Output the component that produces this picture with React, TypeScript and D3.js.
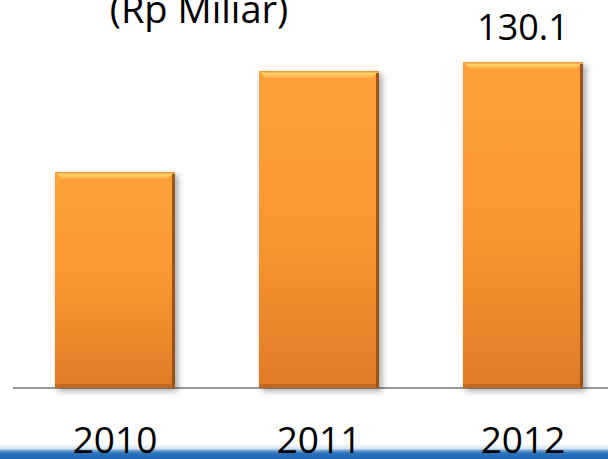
import React from "react";
import * as d3 from "d3";

const years = ["2010", "2011", "2012"];
const values = [86.2, 126.5, 130.1];
const labeledIndex = 2;
const title = "(Rp Miliar)";

const W = 608;
const H = 459;

export default function App() {
  const x = d3
    .scaleBand<string>()
    .domain(years)
    .range([13, 625])
    .paddingInner(84 / 204)
    .paddingOuter(42 / 204);
  const y = d3.scaleLinear().domain([0, 130.1]).range([388, 62]);
  const bw = x.bandwidth();
  const font = "'Open Sans', sans-serif";

  return (
    <svg
      width={W}
      height={H}
      style={{ position: "absolute", left: 0, top: 0, background: "#fff" }}
    >
      <defs>
        <linearGradient id="barg" x1="0" y1="0" x2="0" y2="1">
          <stop offset="0" stopColor="#FFA13A" />
          <stop offset="0.55" stopColor="#F8952F" />
          <stop offset="1" stopColor="#DF7A28" />
        </linearGradient>
        <linearGradient id="topg" x1="0" y1="0" x2="0" y2="1">
          <stop offset="0" stopColor="#F08A2A" />
          <stop offset="0.35" stopColor="#FFD36A" />
          <stop offset="1" stopColor="#FFA940" />
        </linearGradient>
        <linearGradient id="stripg" x1="0" y1="0" x2="0" y2="1">
          <stop offset="0" stopColor="#ffffff" />
          <stop offset="0.3" stopColor="#D5E3F0" />
          <stop offset="0.45" stopColor="#6FA0CF" />
          <stop offset="0.6" stopColor="#2B74BC" />
          <stop offset="1" stopColor="#1B62AC" />
        </linearGradient>
        <filter id="shadow" x="-20%" y="-20%" width="140%" height="140%">
          <feGaussianBlur in="SourceAlpha" stdDeviation="3" />
          <feOffset dx="3" dy="3" result="b" />
          <feComponentTransfer>
            <feFuncA type="linear" slope="0.35" />
          </feComponentTransfer>
          <feMerge>
            <feMergeNode />
            <feMergeNode in="SourceGraphic" />
          </feMerge>
        </filter>
      </defs>

      <rect x={0} y={444} width={W} height={15} fill="url(#stripg)" />

      <line x1={13} x2={W} y1={y(0)} y2={y(0)} stroke="#9a9a9a" strokeWidth={2} />

      {years.map((yr, i) => {
        const x0 = x(yr)!;
        const x1 = x0 + bw;
        const t = y(values[i]);
        const b = y(0);
        const bev = 7;
        return (
          <g key={yr}>
            <rect
              x={x0}
              y={t}
              width={bw}
              height={b - t}
              fill="url(#barg)"
              filter="url(#shadow)"
            />
            <polygon
              points={`${x0},${t} ${x1},${t} ${x1 - bev},${t + bev} ${x0 + bev},${t + bev}`}
              fill="url(#topg)"
            />
            <rect x={x1 - 3} y={t + 2} width={3} height={b - t - 2} fill="#8A4A17" opacity={0.85} />
            <rect x={x0} y={b - 4} width={bw} height={4} fill="#A85A1C" opacity={0.55} />
          </g>
        );
      })}

      <text x={199} y={23} textAnchor="middle" fontFamily={font} fontSize={38} fill="#000">
        {title}
      </text>

      <text
        x={x(years[labeledIndex])! + bw / 2}
        y={40}
        textAnchor="middle"
        fontFamily={font}
        fontSize={36}
        fill="#000"
      >
        {values[labeledIndex].toFixed(1)}
      </text>

      {years.map((yr) => (
        <text
          key={yr}
          x={x(yr)! + bw / 2}
          y={453}
          textAnchor="middle"
          fontFamily={font}
          fontSize={37}
          fill="#000"
        >
          {yr}
        </text>
      ))}
    </svg>
  );
}
